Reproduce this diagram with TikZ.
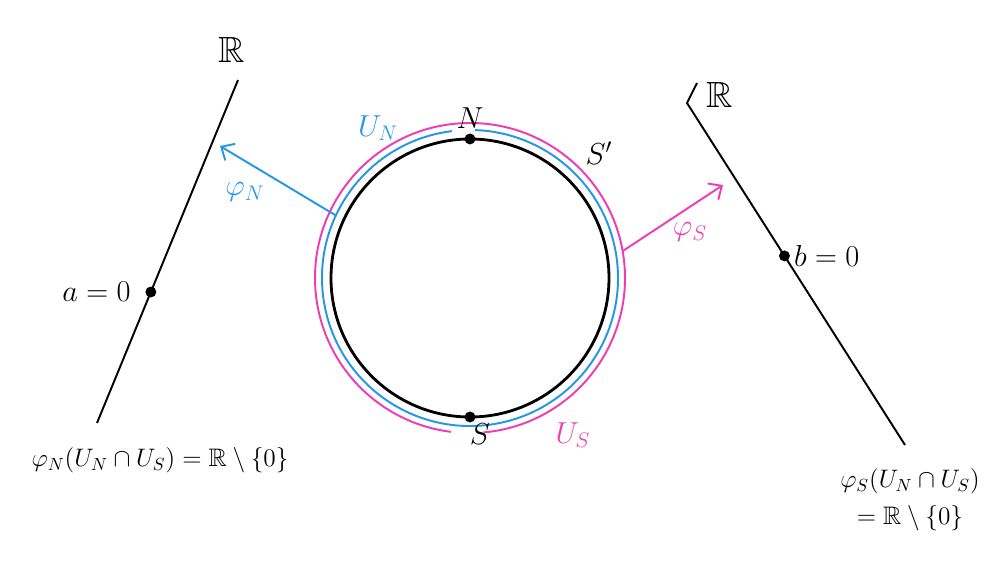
\documentclass[tikz,border=0pt]{standalone}
\usepackage{amsmath,amssymb}
\usetikzlibrary{arrows.meta,calc}
\definecolor{penblue}{RGB}{35,150,230}
\definecolor{penpink}{RGB}{240,60,180}

\begin{document}
\begin{tikzpicture}[x=0.02cm,y=0.02cm,>={Straight Barb[length=6pt,width=11pt]},pen/.style={line width=1.1pt},chart/.style={->,line width=1.1pt},dot/.style={circle,fill=black,inner sep=2.2pt},txt/.style={font=\LARGE},formula/.style={font=\Large},axis/.style={font=\huge}]
\useasboundingbox (0,0) rectangle (998,-564);
\coordinate (C) at (470,-278);
% the circle and the two open sets
\draw[line width=1.6pt] (C) circle (139); \draw[pen,penblue] ($(C)+(97:148)$) arc (97:448:148); \draw[pen,penpink] ($(C)+(275:155)$) arc (275:623:155);
\node[dot] (N) at ($(C)+(90:139)$) {}; \node[dot] (S) at ($(C)+(270:139)$) {};
\node[txt] (Nlab) at (470,-118) {$N$}; \node[txt] (Slab) at (480,-434) {$S$}; \node[txt] (Sone) at (599,-153) {$S'$};
\node[txt,text=penblue] (UN) at (378,-128) {$U_N$}; \node[txt,text=penpink] (US) at (573,-435) {$U_S$};
% left real line
\coordinate (La) at (238,-80); \coordinate (Lb) at (97,-423);
\draw[pen] (La)--(Lb) node[dot,pos=0.618] (A) {};
\node[axis] (RL) at (232,-50) {$\mathbb{R}$}; \node[txt,left=8pt] (alab) at (A) {$a=0$};
% right real line
\coordinate (Rh) at (697,-83); \coordinate (Ra) at (687,-103); \coordinate (Rb) at (905,-445);
\draw[pen] (Rh)--(Ra)--(Rb) node[dot,pos=0.447] (B) {};
\node[axis] (RR) at (720,-95) {$\mathbb{R}$}; \node[txt,right=2pt] (blab) at (B) {$b=0$};
% charts
\coordinate (PN) at (220,-146); \coordinate (PS) at (723,-185);
\draw[chart,penblue] ($(C)+(155:148)$)--(PN); \node[txt,text=penblue] (phiN) at (245,-192) {$\varphi_N$};
\draw[chart,penpink] ($(C)+(10:155)$)--(PS); \node[txt,text=penpink] (phiS) at (690,-232) {$\varphi_S$};
% images of the overlap
\node[formula] (imN) at (160,-460) {$\varphi_N(U_N\cap U_S)=\mathbb{R}\setminus\{0\}$};
\node[formula,align=center] (imS) at (910,-500) {$\varphi_S(U_N\cap U_S)$\\[3pt]$=\mathbb{R}\setminus\{0\}$};
\end{tikzpicture}
\end{document}
